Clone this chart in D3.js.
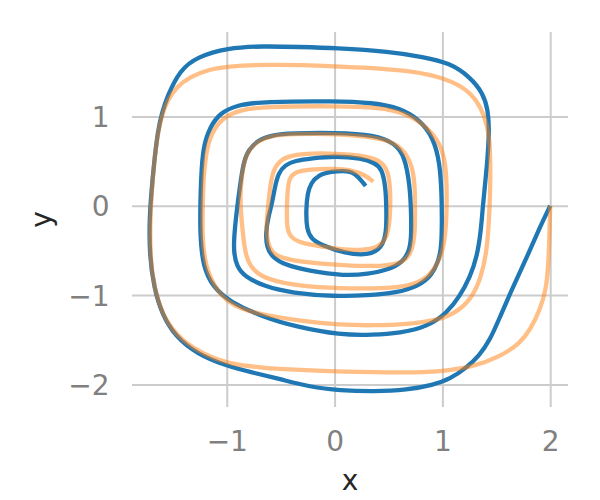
<!DOCTYPE html>
<html><head><meta charset="utf-8">
<script src="https://cdn.jsdelivr.net/npm/d3@7"></script>
<style>body{margin:0;background:#fff;} svg{display:block;}</style>
</head><body><svg id="c" width="600" height="500"></svg>
<script>
const xTicks = [-1, 0, 1, 2];
const yTicks = [-2, -1, 0, 1];
const xTickLabels = ["−1", "0", "1", "2"];
const yTickLabels = ["−2", "−1", "0", "1"];
const xDomain = [-1.879, 2.165];
const yDomain = [-2.253, 1.946];

// predicted trajectory (blue)
const predX = [2.00,1.905,1.785,1.655,1.534,1.442,1.340,1.219,1.071,0.913,
0.672,0.365,0.050,-0.228,-0.506,-0.785,-0.998,-1.276,-1.481,-1.601,
-1.675,-1.717,-1.717,-1.703,-1.675,-1.638,-1.601,-1.555,-1.434,-1.276,
-0.998,-0.664,-0.321,0.004,0.514,0.820,1.071,1.256,1.377,1.423,
1.435,1.418,1.395,1.372,1.358,1.321,1.256,1.163,1.043,0.857,
0.607,0.356,0.050,-0.349,-0.664,-0.970,-1.128,-1.221,-1.249,-1.244,
-1.239,-1.221,-1.156,-1.063,-0.905,-0.664,0.004,0.356,0.607,0.792,
0.913,0.978,0.994,0.996,0.987,0.959,0.904,0.783,0.570,0.310,
0.004,-0.395,-0.646,-0.831,-0.908,-0.940,-0.924,-0.901,-0.878,-0.847,
-0.801,-0.708,-0.583,-0.398,0.004,0.375,0.560,0.653,0.699,0.709,
0.713,0.699,0.635,0.495,0.310,0.096,-0.247,-0.460,-0.583,-0.630,
-0.639,-0.615,-0.583,-0.553,-0.522,-0.460,-0.367,-0.212,0.004,0.251,
0.375,0.437,0.474,0.481,0.481,0.437,0.313,0.096,-0.120,-0.212,
-0.259,-0.265,-0.251,-0.219,-0.154,-0.027,0.096,0.161,0.220,0.288];
const predY = [0.00,-0.237,-0.573,-0.909,-1.245,-1.503,-1.682,-1.816,-1.940,-2.007,
-2.063,-2.080,-2.068,-2.029,-1.940,-1.861,-1.794,-1.660,-1.458,-1.212,
-0.920,-0.551,-0.159,0.099,0.479,0.849,1.039,1.218,1.521,1.666,
1.767,1.789,1.778,1.767,1.726,1.666,1.599,1.442,1.263,1.073,
0.849,0.513,0.233,-0.047,-0.271,-0.573,-0.797,-1.010,-1.200,-1.357,
-1.424,-1.447,-1.447,-1.357,-1.245,-1.077,-0.909,-0.685,-0.305,0.065,
0.289,0.658,0.882,1.039,1.129,1.166,1.174,1.155,1.095,0.961,
0.770,0.479,0.099,-0.271,-0.495,-0.629,-0.775,-0.898,-0.976,-1.004,
-1.016,-0.976,-0.906,-0.794,-0.682,-0.495,-0.234,0.009,0.214,0.476,
0.625,0.737,0.793,0.812,0.819,0.793,0.700,0.550,0.214,-0.047,
-0.305,-0.495,-0.629,-0.719,-0.764,-0.786,-0.727,-0.663,-0.570,-0.458,
-0.308,-0.122,0.009,0.214,0.364,0.457,0.505,0.532,0.558,0.532,
0.476,0.420,0.214,-0.047,-0.305,-0.476,-0.557,-0.534,-0.439,-0.375,
-0.271,-0.047,0.143,0.252,0.345,0.384,0.392,0.378,0.326,0.222];

// true trajectory (orange)
const trueX = [2.00,1.994,1.982,1.961,1.905,1.813,1.720,1.534,1.287,0.978,
0.669,0.050,-0.321,-0.664,-0.998,-1.202,-1.397,-1.545,-1.638,-1.694,
-1.712,-1.708,-1.699,-1.675,-1.638,-1.604,-1.558,-1.465,-1.341,-1.156,
-1.001,-0.661,0.001,0.669,0.978,1.194,1.318,1.395,1.437,1.446,
1.442,1.432,1.414,1.358,1.275,1.126,0.959,0.672,0.356,0.050,
-0.321,-0.646,-0.878,-1.007,-1.094,-1.202,-1.230,-1.221,-1.218,-1.186,
-1.125,-1.032,-0.878,-0.661,0.001,0.421,0.669,0.854,0.978,1.033,
1.043,1.033,1.006,0.950,0.866,0.699,0.468,0.050,-0.337,-0.615,
-0.769,-0.831,-0.850,-0.873,-0.873,-0.845,-0.799,-0.706,-0.583,-0.398,
0.004,0.468,0.635,0.727,0.746,0.746,0.746,0.718,0.635,0.449,
0.096,-0.337,-0.522,-0.599,-0.630,-0.630,-0.615,-0.599,-0.569,-0.506,
-0.398,-0.212,0.004,0.310,0.449,0.505,0.519,0.514,0.486,0.403,
0.236,0.050,-0.089,-0.305,-0.398,-0.442,-0.444,-0.435,-0.414,-0.352,
-0.244,0.004,0.159,0.282,0.359];
const trueY = [0.00,-0.305,-0.682,-0.943,-1.167,-1.391,-1.540,-1.690,-1.802,-1.858,
-1.869,-1.858,-1.839,-1.816,-1.766,-1.671,-1.525,-1.335,-1.077,-0.775,
-0.439,-0.125,0.099,0.479,0.826,0.998,1.166,1.334,1.446,1.529,
1.558,1.585,1.565,1.521,1.446,1.334,1.185,0.998,0.774,0.476,
0.102,-0.159,-0.495,-0.809,-1.032,-1.200,-1.279,-1.329,-1.340,-1.335,
-1.290,-1.223,-1.156,-1.055,-0.943,-0.682,-0.305,0.065,0.289,0.662,
0.849,0.991,1.073,1.110,1.118,1.103,1.036,0.886,0.700,0.476,
0.102,-0.271,-0.495,-0.663,-0.803,-0.898,-0.926,-0.926,-0.898,-0.831,
-0.719,-0.532,-0.308,-0.047,0.214,0.476,0.625,0.731,0.787,0.804,
0.810,0.759,0.647,0.438,0.177,-0.047,-0.308,-0.517,-0.641,-0.680,
-0.669,-0.626,-0.577,-0.495,-0.346,-0.159,0.009,0.214,0.401,0.513,
0.569,0.588,0.586,0.558,0.490,0.356,0.121,-0.159,-0.361,-0.473,
-0.501,-0.489,-0.461,-0.420,-0.364,-0.271,-0.047,0.214,0.326,0.382,
0.409,0.418,0.401,0.345,0.270];

const svg = d3.select("#c");
const m = {l: 132, r: 568, t: 32, b: 407};
const x = d3.scaleLinear().domain(xDomain).range([m.l, m.r]);
const y = d3.scaleLinear().domain(yDomain).range([m.b, m.t]);
const FONT = "DejaVu Sans";

const gx = svg.append("g")
  .attr("transform", `translate(0,${m.b})`)
  .call(d3.axisBottom(x).tickValues(xTicks).tickFormat((d, i) => xTickLabels[i])
    .tickSizeInner(-(m.b - m.t)).tickSizeOuter(0).tickPadding(24));
gx.attr("font-family", FONT).attr("font-size", 28);
gx.select(".domain").remove();
gx.selectAll(".tick line").attr("stroke", "#cccccc").attr("stroke-width", 2);
gx.selectAll(".tick text").attr("fill", "#808080");

const gy = svg.append("g")
  .attr("transform", `translate(${m.l},0)`)
  .call(d3.axisLeft(y).tickValues(yTicks).tickFormat((d, i) => yTickLabels[i])
    .tickSizeInner(-(m.r - m.l)).tickSizeOuter(0).tickPadding(22.5));
gy.attr("font-family", FONT).attr("font-size", 28);
gy.select(".domain").remove();
gy.selectAll(".tick line").attr("stroke", "#cccccc").attr("stroke-width", 2);
gy.selectAll(".tick text").attr("fill", "#808080").attr("dy", "0.36em");

svg.append("text").attr("x", (m.l + m.r) / 2).attr("y", 490)
  .attr("text-anchor", "middle").attr("font-family", FONT).attr("font-size", 28)
  .attr("fill", "#262626").text("x");
svg.append("text").attr("transform", `translate(51,${(m.t + m.b) / 2}) rotate(-90)`)
  .attr("text-anchor", "middle").attr("font-family", FONT).attr("font-size", 28)
  .attr("fill", "#262626").text("y");

const line = d3.line().x(d => x(d[0])).y(d => y(d[1])).curve(d3.curveBasis);

svg.append("path").datum(d3.zip(predX, predY)).attr("d", line)
  .attr("fill", "none").attr("stroke", "#1f77b4").attr("stroke-width", 4.3)
  .attr("stroke-linejoin", "round");
svg.append("path").datum(d3.zip(trueX, trueY)).attr("d", line)
  .attr("fill", "none").attr("stroke", "#ff7f0e").attr("stroke-opacity", 0.5)
  .attr("stroke-width", 4.3).attr("stroke-linejoin", "round");
</script></body></html>
